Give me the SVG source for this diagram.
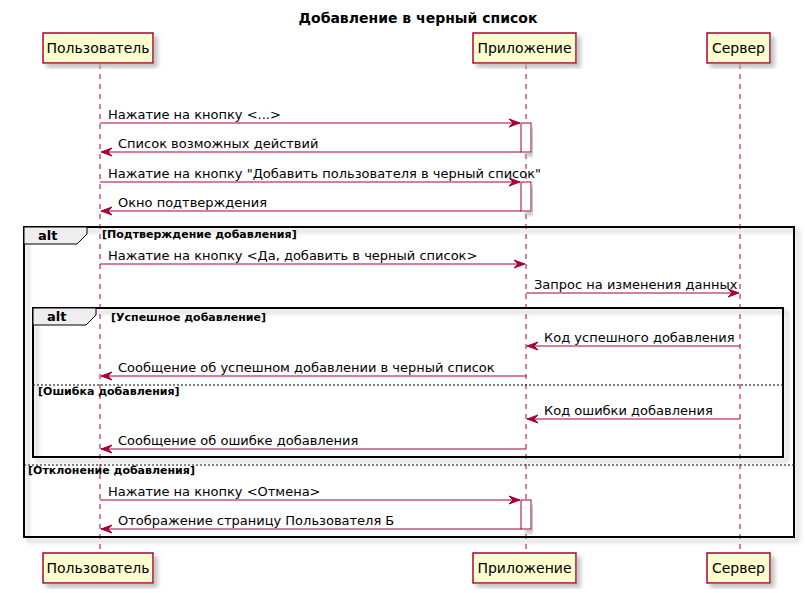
<svg xmlns="http://www.w3.org/2000/svg" width="805" height="593" viewBox="0 0 805 593">
<defs>
<filter id="sh" x="-10%" y="-10%" width="130%" height="130%">
<feGaussianBlur in="SourceAlpha" stdDeviation="2"/>
<feOffset dx="4" dy="4" result="b"/>
<feColorMatrix in="b" type="matrix" values="0 0 0 0 0.45  0 0 0 0 0.45  0 0 0 0 0.45  0 0 0 0.8 0" result="c"/>
<feMerge><feMergeNode in="c"/><feMergeNode in="SourceGraphic"/></feMerge>
</filter>
<marker id="ah" viewBox="0 0 11 10" refX="11" refY="5" markerWidth="11" markerHeight="10" markerUnits="userSpaceOnUse" orient="auto">
<polygon points="0,1 11,5 0,9 4,5" fill="#A80036" stroke="#A80036" stroke-width="1"/>
</marker>
</defs>
<style>
text{font-family:"DejaVu Sans","Noto Sans",sans-serif;fill:#000}
.title{font-size:14px;font-weight:bold}
.pt{font-size:14px}
.msg{font-size:13px}
.grd{font-size:11px;font-weight:bold}
.alt{font-size:13px;font-weight:bold}
.pbox{fill:#FEFECE;stroke:#A80036;stroke-width:1.5}
.life{stroke:#A80036;stroke-width:1;stroke-dasharray:5,5;fill:none}
.arr{stroke:#A80036;stroke-width:1;fill:none;marker-end:url(#ah)}
.act{fill:#FFFFFF;stroke:#A80036;stroke-width:1}
.frame{fill:none;stroke:#000;stroke-width:2}
.tab{fill:#EEEEEE;stroke:#000;stroke-width:1}
.sep{stroke:#000;stroke-width:1;stroke-dasharray:2,2}
</style>
<rect width="805" height="593" fill="#FFFFFF"/>
<text class="title" x="418" y="23" text-anchor="middle">Добавление в черный список</text>

<g id="lifelines">
<line class="life" x1="100" y1="64" x2="100" y2="553"/>
<line class="life" x1="526" y1="64" x2="526" y2="553"/>
<line class="life" x1="740" y1="64" x2="740" y2="553"/>
</g>

<g id="frames">
<rect class="frame" x="24" y="227" width="770" height="310" filter="url(#sh)"/>
<polygon class="tab" points="24,227 87,227 87,234 77,244 24,244"/>
<text class="alt" x="38" y="240">alt</text>
<text class="grd" x="102" y="238">[Подтверждение добавления]</text>
<line class="sep" x1="24" y1="465" x2="794" y2="465"/>
<text class="grd" x="28" y="474">[Отклонение добавления]</text>

<rect class="frame" x="33" y="308" width="750" height="149" filter="url(#sh)"/>
<polygon class="tab" points="33,308 96,308 96,315 86,325 33,325"/>
<text class="alt" x="47" y="321">alt</text>
<text class="grd" x="111" y="321">[Успешное добавление]</text>
<line class="sep" x1="33" y1="385" x2="783" y2="385"/>
<text class="grd" x="38" y="395">[Ошибка добавления]</text>
</g>

<g id="participants">
<g id="p-user">
<rect class="pbox" x="43" y="33" width="110" height="30" filter="url(#sh)"/>
<text class="pt" x="98" y="53" text-anchor="middle">Пользователь</text>
<rect class="pbox" x="43" y="553" width="110" height="30" filter="url(#sh)"/>
<text class="pt" x="98" y="573" text-anchor="middle">Пользователь</text>
</g>
<g id="p-app">
<rect class="pbox" x="473" y="33" width="103" height="30" filter="url(#sh)"/>
<text class="pt" x="524.5" y="53" text-anchor="middle">Приложение</text>
<rect class="pbox" x="473" y="553" width="103" height="30" filter="url(#sh)"/>
<text class="pt" x="524.5" y="573" text-anchor="middle">Приложение</text>
</g>
<g id="p-server">
<rect class="pbox" x="707" y="33" width="63" height="30" filter="url(#sh)"/>
<text class="pt" x="738.5" y="53" text-anchor="middle">Сервер</text>
<rect class="pbox" x="707" y="553" width="63" height="30" filter="url(#sh)"/>
<text class="pt" x="738.5" y="573" text-anchor="middle">Сервер</text>
</g>
</g>

<g id="activations">
<rect class="act" x="521" y="123" width="10" height="29" filter="url(#sh)"/>
<rect class="act" x="521" y="182" width="10" height="29" filter="url(#sh)"/>
<rect class="act" x="521" y="500" width="10" height="29" filter="url(#sh)"/>
</g>

<g id="connectors">
<line class="arr" x1="100" y1="123" x2="520" y2="123"/>
<text class="msg" x="108" y="119">Нажатие на кнопку &lt;...&gt;</text>
<line class="arr" x1="521" y1="152" x2="101" y2="152"/>
<text class="msg" x="118" y="148">Список возможных действий</text>
<line class="arr" x1="100" y1="182" x2="520" y2="182"/>
<text class="msg" x="108" y="178">Нажатие на кнопку "Добавить пользователя в черный список"</text>
<line class="arr" x1="521" y1="211" x2="101" y2="211"/>
<text class="msg" x="118" y="207">Окно подтверждения</text>
<line class="arr" x1="100" y1="264" x2="525" y2="264"/>
<text class="msg" x="108" y="260">Нажатие на кнопку &lt;Да, добавить в черный список&gt;</text>
<line class="arr" x1="526" y1="293" x2="739" y2="293"/>
<text class="msg" x="534" y="289">Запрос на изменения данных</text>
<line class="arr" x1="740" y1="346" x2="527" y2="346"/>
<text class="msg" x="544" y="342">Код успешного добавления</text>
<line class="arr" x1="526" y1="376" x2="101" y2="376"/>
<text class="msg" x="118" y="372">Сообщение об успешном добавлении в черный список</text>
<line class="arr" x1="740" y1="419" x2="527" y2="419"/>
<text class="msg" x="544" y="415">Код ошибки добавления</text>
<line class="arr" x1="526" y1="449" x2="101" y2="449"/>
<text class="msg" x="118" y="445">Сообщение об ошибке добавления</text>
<line class="arr" x1="100" y1="500" x2="520" y2="500"/>
<text class="msg" x="108" y="496">Нажатие на кнопку &lt;Отмена&gt;</text>
<line class="arr" x1="521" y1="529" x2="101" y2="529"/>
<text class="msg" x="118" y="525">Отображение страницу Пользователя Б</text>
</g>
</svg>
